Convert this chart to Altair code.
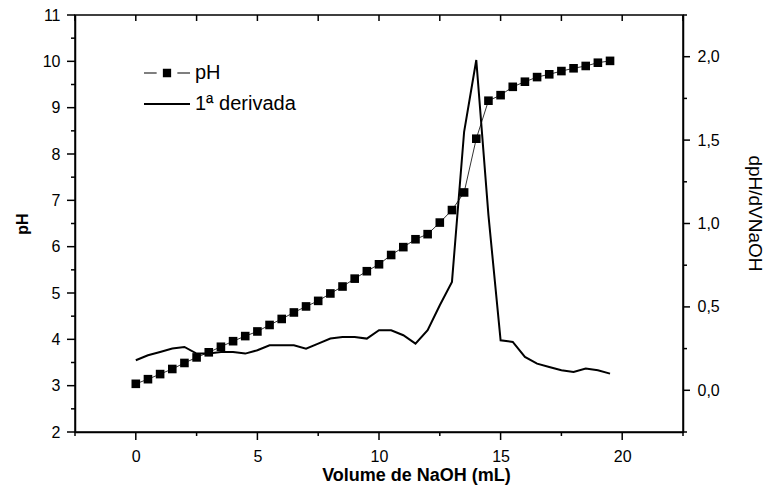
import altair as alt
import pandas as pd

# ---- data ----
volume = [0.0, 0.5, 1.0, 1.5, 2.0, 2.5, 3.0, 3.5, 4.0, 4.5,
          5.0, 5.5, 6.0, 6.5, 7.0, 7.5, 8.0, 8.5, 9.0, 9.5,
          10.0, 10.5, 11.0, 11.5, 12.0, 12.5, 13.0, 13.5, 14.0, 14.5,
          15.0, 15.5, 16.0, 16.5, 17.0, 17.5, 18.0, 18.5, 19.0, 19.5]
ph = [3.04, 3.14, 3.25, 3.36, 3.49, 3.61, 3.72, 3.84, 3.96, 4.07,
      4.17, 4.31, 4.44, 4.58, 4.71, 4.83, 4.99, 5.14, 5.31, 5.47,
      5.62, 5.82, 5.99, 6.16, 6.27, 6.52, 6.79, 7.17, 8.33, 9.15,
      9.27, 9.45, 9.56, 9.66, 9.72, 9.79, 9.85, 9.90, 9.97, 10.01]
deriv = [0.18, 0.21, 0.23, 0.25, 0.26, 0.22, 0.22, 0.23, 0.23, 0.22,
         0.24, 0.27, 0.27, 0.27, 0.25, 0.28, 0.31, 0.32, 0.32, 0.31,
         0.36, 0.36, 0.33, 0.28, 0.36, 0.51, 0.65, 1.55, 1.98, 1.05,
         0.30, 0.29, 0.20, 0.16, 0.14, 0.12, 0.11, 0.13, 0.12, 0.10]
series_names = ["pH", "1ª derivada"]

# tick positions (axis decoration)
x_major = [0, 5, 10, 15, 20]
x_minor = [-2.5, 2.5, 7.5, 12.5, 17.5, 22.5]
x_all = [-2.5, 0, 2.5, 5, 7.5, 10, 12.5, 15, 17.5, 20, 22.5]
ph_major = [2, 3, 4, 5, 6, 7, 8, 9, 10, 11]
ph_minor = [2.5, 3.5, 4.5, 5.5, 6.5, 7.5, 8.5, 9.5, 10.5]
d_major = [0.0, 0.5, 1.0, 1.5, 2.0]
d_minor = [-0.25, 0.25, 0.75, 1.25, 1.75, 2.25]

FONT = "Liberation Sans"
W, H = 608, 417

df = pd.DataFrame({"v": volume, "ph": ph, "d": deriv})
leg = pd.DataFrame({"series": series_names})

xscale = alt.Scale(domain=[-2.5, 22.5], nice=False, zero=False)
phscale = alt.Scale(domain=[2, 11], nice=False, zero=False)
dscale = alt.Scale(domain=[-0.25, 2.25], nice=False, zero=False)

x_axis = alt.Axis(
    orient="bottom", values=x_major, title="Volume de NaOH (mL)",
    format="d", ticks=False, tickSize=0, labelPadding=16,
    titleFontWeight="bold", titleFontSize=18, titleX=341, titleY=34,
    titleBaseline="top",
)
ph_axis = alt.Axis(
    orient="left", values=ph_major, title="pH", format="d",
    ticks=False, tickSize=0, labelPadding=15,
    titleFontWeight="bold", titleFontSize=16, titlePadding=12,
)
d_axis = alt.Axis(
    orient="right", values=d_major, title="dpH/dVNaOH",
    labelExpr="replace(format(datum.value, '.1f'), '.', ',')",
    ticks=False, tickSize=0, labelPadding=14,
    titleFontWeight="normal", titleFontSize=19, titlePadding=25, titleY=198,
)


def xticks(vals, y0, y1):
    return alt.Chart(pd.DataFrame({"t": vals})).mark_rule(
        color="black", strokeWidth=1.5
    ).encode(
        x=alt.X("t:Q", scale=xscale, axis=x_axis),
        y=alt.value(y0), y2=alt.value(y1),
    )


def yticks(vals, scale, axis, x0, x1):
    return alt.Chart(pd.DataFrame({"t": vals})).mark_rule(
        color="black", strokeWidth=1.5
    ).encode(
        y=alt.Y("t:Q", scale=scale, axis=axis),
        x=alt.value(x0), x2=alt.value(x1),
    )


base = alt.Chart(df)
ph_line = base.mark_line(color="black", strokeWidth=0.8).encode(
    x=alt.X("v:Q", scale=xscale, axis=x_axis),
    y=alt.Y("ph:Q", scale=phscale, axis=ph_axis),
)
ph_pts = base.mark_square(color="black", size=74, opacity=1).encode(
    x=alt.X("v:Q", scale=xscale, axis=x_axis),
    y=alt.Y("ph:Q", scale=phscale, axis=ph_axis),
)

left = alt.layer(
    ph_line, ph_pts,
    xticks(x_major, H, H + 8), xticks(x_minor, H, H + 4),
    xticks(x_all, 0, 6),
    yticks(ph_major, phscale, ph_axis, 0, -8),
    yticks(ph_minor, phscale, ph_axis, 0, -4),
)

d_line = base.mark_line(color="black", strokeWidth=2).encode(
    x=alt.X("v:Q", scale=xscale, axis=x_axis),
    y=alt.Y("d:Q", scale=dscale, axis=d_axis),
)
right = alt.layer(
    d_line,
    yticks(d_major, dscale, d_axis, W, W + 7),
    yticks(d_minor, dscale, d_axis, W, W + 4),
)

path_ph = ("M-1,-0.02L-0.45,-0.02L-0.45,0.02L-1,0.02Z "
           "M0.45,-0.02L1,-0.02L1,0.02L0.45,0.02Z "
           "M-0.18,-0.18L0.18,-0.18L0.18,0.18L-0.18,0.18Z")
path_d = "M-1,-0.045L1,-0.045L1,0.045L-1,0.045Z"

legend_layer = alt.Chart(leg).mark_point(
    filled=True, color="black", opacity=0, size=2116
).encode(
    shape=alt.Shape(
        "series:N",
        scale=alt.Scale(domain=series_names, range=[path_ph, path_d]),
        legend=alt.Legend(
            title=None, orient="none", legendX=69, legendY=48, padding=0,
            symbolSize=2116, clipHeight=20, rowPadding=11,
            labelFont=FONT, labelFontSize=20, labelColor="black", labelOffset=5,
            symbolFillColor="black", symbolStrokeWidth=0, symbolOpacity=1,
        ),
    )
)

chart = (
    alt.layer(left, right, legend_layer)
    .resolve_scale(y="independent")
    .properties(
        width=W, height=H,
        autosize=alt.AutoSizeParams(type="none"),
        padding={"left": 75, "top": 15, "right": 93, "bottom": 57},
        background="white",
    )
    .configure_view(stroke="black", strokeWidth=1.5)
    .configure_axis(
        grid=False, domainColor="black", domainWidth=1.5,
        labelFont=FONT, labelFontSize=16, labelColor="black",
        titleFont=FONT, titleColor="black",
    )
)

chart.save("out.html", embed_options={"renderer": "svg", "actions": False})
